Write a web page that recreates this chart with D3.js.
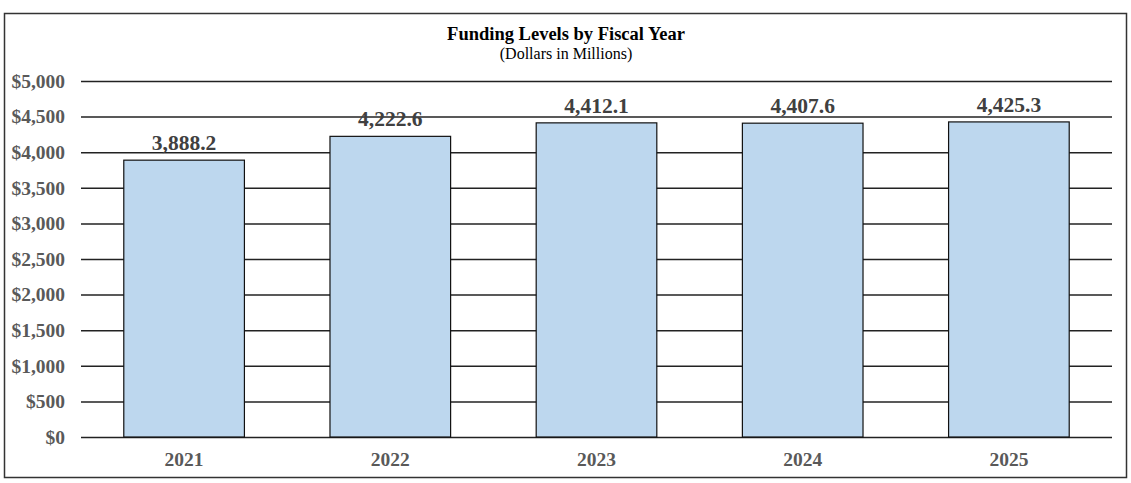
<!DOCTYPE html>
<html><head><meta charset="utf-8">
<script src="https://cdn.jsdelivr.net/npm/d3@7"></script>
<style>body{margin:0;background:#fff}svg{display:block}</style>
</head><body>
<script>
const categories = ["2021","2022","2023","2024","2025"];
const values = [3888.2, 4222.6, 4412.1, 4407.6, 4425.3];
const yTicks = [0,500,1000,1500,2000,2500,3000,3500,4000,4500,5000];
const title = "Funding Levels by Fiscal Year";
const subtitle = "(Dollars in Millions)";

const W = 1131, H = 483;
const svg = d3.select("body").append("svg").attr("width", W).attr("height", H);
svg.append("rect").attr("x", 4.5).attr("y", 13.5).attr("width", 1122).attr("height", 464)
  .attr("fill", "#fff").attr("stroke", "#333").attr("stroke-width", 1.5);

const x = d3.scaleBand().domain(categories).range([81, 1112]).paddingInner(0.415).paddingOuter(0.2075);
const y = d3.scaleLinear().domain([0, 5000]).range([437, 81]);

const font = "'Liberation Serif','Times New Roman',serif";
svg.append("text").attr("x", 566).attr("y", 40).attr("text-anchor","middle")
  .attr("font-family", font).attr("font-weight","bold").attr("font-size", 18.5).attr("fill","#000").text(title);
svg.append("text").attr("x", 566).attr("y", 59).attr("text-anchor","middle")
  .attr("font-family", font).attr("font-size", 16).attr("fill","#000").text(subtitle);

const yAxis = d3.axisLeft(y).tickValues(yTicks).tickSize(-(1112-81)).tickPadding(16)
  .tickFormat(d => "$" + d3.format(",")(d));
const gy = svg.append("g").attr("transform","translate(81,0)").call(yAxis);
gy.select(".domain").remove();
gy.selectAll(".tick line").attr("stroke","#222").attr("stroke-width",1.5);
gy.selectAll(".tick text").attr("font-family", font).attr("font-weight","bold")
  .attr("font-size", 19.5).attr("fill","#595959");

svg.append("g").selectAll("rect").data(values).join("rect")
  .attr("x", (d,i) => x(categories[i])).attr("width", x.bandwidth())
  .attr("y", d => y(d)).attr("height", d => y(0) - y(d))
  .attr("fill", "#BDD7EE").attr("stroke", "#111").attr("stroke-width", 1.2);

svg.append("g").selectAll("text").data(values).join("text")
  .attr("x", (d,i) => x(categories[i]) + x.bandwidth()/2).attr("y", d => y(d) - 10)
  .attr("text-anchor","middle").attr("font-family", font).attr("font-weight","bold")
  .attr("font-size", 21.5).attr("fill","#404040").text(d => d3.format(",.1f")(d));

const xAxis = d3.axisBottom(x).tickSize(0).tickPadding(15);
const gx = svg.append("g").attr("transform","translate(0,437)").call(xAxis);
gx.select(".domain").remove();
gx.selectAll(".tick text").attr("font-family", font).attr("font-weight","bold")
  .attr("font-size", 19.5).attr("fill","#595959");
</script>
</body></html>
